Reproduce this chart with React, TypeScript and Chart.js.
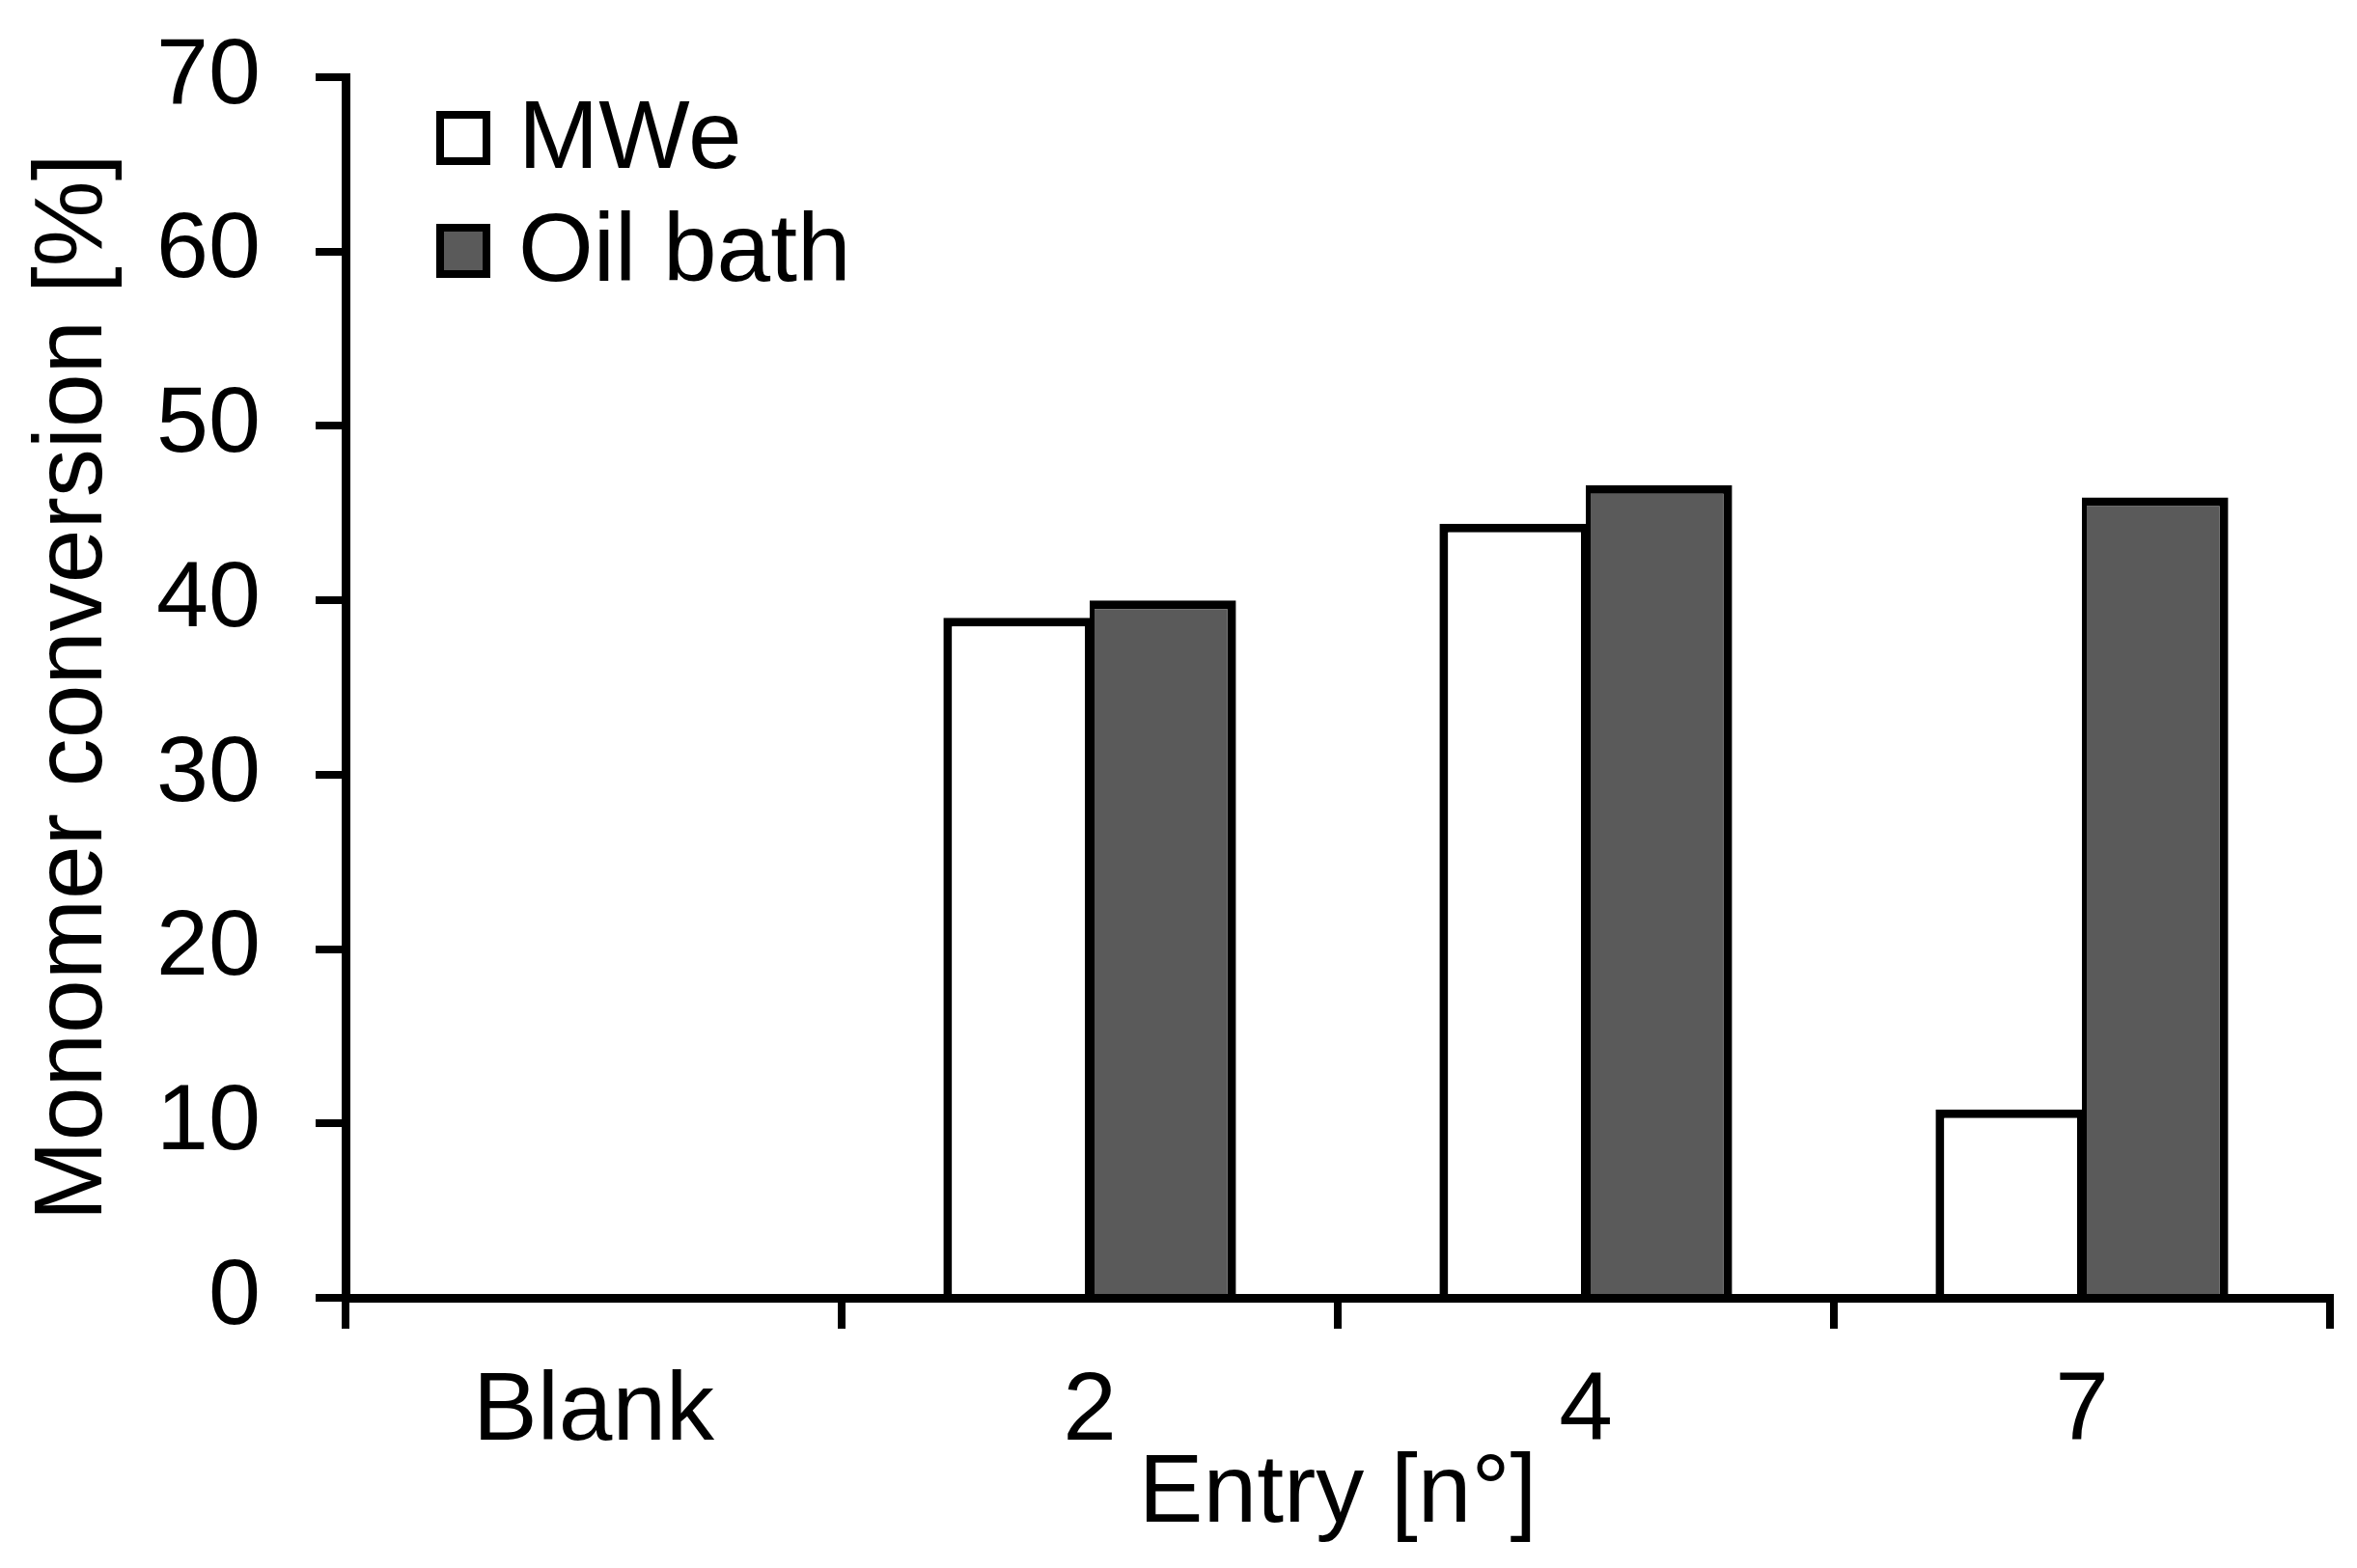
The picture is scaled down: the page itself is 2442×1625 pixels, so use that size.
import React, { useEffect, useRef } from 'react';
import { Chart, registerables } from 'chart.js';

Chart.register(...registerables);

// ---- data ----
const categories = ['Blank', '2', '4', '7'];
const mweValues = [0, 39.0, 44.4, 10.8];
const oilBathValues = [0, 40.0, 46.6, 45.9];
const seriesLabels = ['MWe', 'Oil bath'];
const seriesColors = ['#ffffff', '#5a5a5a'];
const yMin = 0;
const yMax = 70;
const yStep = 10;
const yTitle = 'Monomer conversion [%]';
const xTitle = 'Entry [n°]';

const FONT = "'Liberation Sans', Arial, sans-serif";

const insideLegend = {
  id: 'insideLegend',
  afterDraw(chart: any) {
    const ctx = chart.ctx;
    const area = chart.chartArea;
    ctx.save();
    chart.data.datasets.forEach((ds: any, i: number) => {
      const bx = area.left + 94;
      const by = area.top + 35 + i * 117;
      const size = 56;
      const lw = 8;
      ctx.fillStyle = ds.backgroundColor;
      ctx.fillRect(bx + lw / 2, by + lw / 2, size - lw, size - lw);
      ctx.lineWidth = lw;
      ctx.strokeStyle = '#000000';
      ctx.strokeRect(bx + lw / 2, by + lw / 2, size - lw, size - lw);
      ctx.fillStyle = '#000000';
      ctx.font = `100px ${FONT}`;
      ctx.textAlign = 'left';
      ctx.textBaseline = 'alphabetic';
      ctx.fillText(ds.label, bx + 85, by + size + 3);
    });
    ctx.restore();
  },
};

export default function App() {
  const canvasRef = useRef<HTMLCanvasElement | null>(null);

  useEffect(() => {
    if (!canvasRef.current) return;
    const chart = new Chart(canvasRef.current, {
      type: 'bar',
      data: {
        labels: categories,
        datasets: [
          {
            label: seriesLabels[0],
            data: mweValues,
            backgroundColor: seriesColors[0],
            borderColor: '#000000',
            borderWidth: { top: 9, left: 9, right: 5, bottom: 0 },
            borderSkipped: 'start',
            categoryPercentage: 0.59,
            barPercentage: 1,
          },
          {
            label: seriesLabels[1],
            data: oilBathValues,
            backgroundColor: seriesColors[1],
            borderColor: '#000000',
            borderWidth: { top: 9, left: 5, right: 9, bottom: 0 },
            borderSkipped: 'start',
            categoryPercentage: 0.59,
            barPercentage: 1,
          },
        ],
      },
      options: {
        responsive: false,
        animation: false,
        devicePixelRatio: 1,
        layout: { padding: { top: 80, right: 28, left: 0, bottom: 0 } },
        plugins: {
          legend: { display: false },
          tooltip: { enabled: false },
        },
        scales: {
          x: {
            type: 'category',
            grid: {
              display: true,
              drawOnChartArea: false,
              drawTicks: true,
              tickLength: 32,
              lineWidth: 8,
              color: '#000000',
              offset: true,
            },
            border: { display: true, color: '#000000', width: 9, z: 1 },
            ticks: {
              color: '#000000',
              font: { family: FONT, size: 100 },
              padding: 27,
              maxRotation: 0,
              autoSkip: false,
            },
            title: {
              display: true,
              text: xTitle,
              color: '#000000',
              font: { family: FONT, size: 100 },
              padding: { top: 0, bottom: 16 },
            },
            afterFit: (scale: any) => {
              scale.height = 280;
              scale.paddingLeft = 0;
              scale.paddingRight = 0;
            },
          },
          y: {
            type: 'linear',
            min: yMin,
            max: yMax,
            grid: {
              display: true,
              drawOnChartArea: false,
              drawTicks: true,
              tickLength: 31,
              lineWidth: 8,
              color: '#000000',
            },
            border: { display: true, color: '#000000', width: 9, z: 1 },
            ticks: {
              stepSize: yStep,
              color: '#000000',
              font: { family: FONT, size: 97 },
              padding: 57,
            },
            title: {
              display: true,
              text: yTitle,
              color: '#000000',
              font: { family: FONT, size: 100 },
              padding: { top: 17, bottom: 0 },
            },
            afterFit: (scale: any) => {
              scale.width = 358;
              scale.paddingTop = 0;
              scale.paddingBottom = 0;
            },
          },
        },
      },
      plugins: [insideLegend],
    } as any);
    return () => chart.destroy();
  }, []);

  return (
    <div style={{ position: 'fixed', left: 0, top: 0, width: 2442, height: 1625, background: '#ffffff' }}>
      <canvas ref={canvasRef} width={2442} height={1625} style={{ display: 'block' }} />
    </div>
  );
}
